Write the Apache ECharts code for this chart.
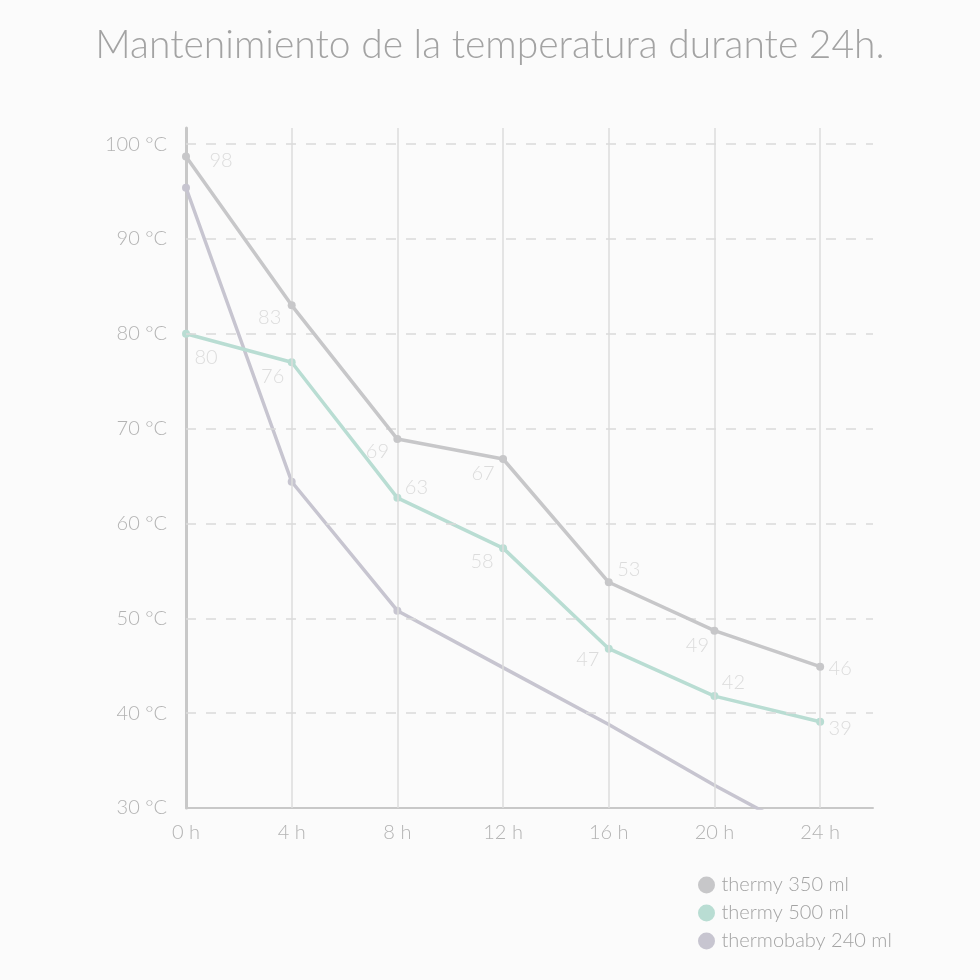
<!DOCTYPE html>
<html><head><meta charset="utf-8">
<script src="https://cdn.jsdelivr.net/npm/echarts@6/dist/echarts.min.js"></script>
<style>html,body{margin:0;padding:0;background:#fbfbfb}#c{width:980px;height:980px}</style>
</head><body><div id="c"></div>
<script>
const hours = [0, 4, 8, 12, 16, 20, 24];
const yTicks = [30, 40, 50, 60, 70, 80, 90, 100];
const names = ['thermy 350 ml', 'thermy 500 ml', 'thermobaby 240 ml'];
const thermy350 = [98.7, 83.0, 68.9, 66.8, 53.8, 48.7, 44.9];
const thermy350Labels = ['98', '83', '69', '67', '53', '49', '46'];
const thermy500 = [80.0, 77.0, 62.7, 57.4, 46.8, 41.8, 39.1];
const thermy500Labels = ['80', '76', '63', '58', '47', '42', '39'];
const thermobaby = [95.4, 64.4, 50.8, 44.8, 38.8, 32.4, 26.4];
const thermobabyMarked = 3;

// label offsets (style only)
const off350 = [[35,4],[-22,12],[-20,12],[-20,15],[20,-13],[-17,15],[20,2]];
const off500 = [[20,24],[-19,14],[19,-10],[-21,13],[-21,11],[19,-14],[20,7]];

const colors = ['#c7c7c9', '#b9ddd3', '#c7c5d0'];
const font = 'Lato, "Open Sans", sans-serif';

function labeled(vals, labels, offs) {
  return vals.map((v, i) => ({
    value: [hours[i], v],
    label: { show: true, formatter: labels[i], offset: offs[i], position: 'inside' }
  }));
}

const chart = echarts.init(document.getElementById('c'));
chart.setOption({
  backgroundColor: '#fbfbfb',
  animation: false,
  color: colors,
  title: {
    text: 'Mantenimiento de la temperatura durante 24h.',
    left: 'center', top: 21,
    textStyle: { color: '#a3a3a3', fontSize: 39, fontWeight: 300, fontFamily: font }
  },
  legend: {
    orient: 'vertical', left: 693, top: 870,
    icon: 'circle', itemWidth: 20, itemHeight: 17, itemGap: 8,
    data: names,
    textStyle: { color: '#a3a3a3', fontSize: 20, fontWeight: 300, fontFamily: font }
  },
  grid: { left: 186, right: 107, top: 128, bottom: 172, containLabel: false },
  xAxis: {
    type: 'value', min: 0, max: 26, interval: 4,
    axisLine: { show: true, lineStyle: { color: '#c8c8c8', width: 2 } },
    axisTick: { show: false },
    splitLine: { show: false },
    axisLabel: {
      color: '#b3b3b3', fontSize: 20, fontWeight: 300, fontFamily: font, margin: 15,
      showMaxLabel: false,
      formatter: v => hours.indexOf(v) >= 0 ? v + ' h' : ''
    }
  },
  yAxis: {
    type: 'value', min: 30, max: 101.7, interval: 10,
    axisLine: { show: true, lineStyle: { color: '#c8c8c8', width: 3 } },
    axisTick: { show: false },
    splitLine: { show: false },
    axisLabel: {
      color: '#b3b3b3', fontSize: 20, fontWeight: 300, fontFamily: font, margin: 19,
      showMaxLabel: false,
      formatter: v => yTicks.indexOf(v) >= 0 ? v + ' °C' : ''
    }
  },
  series: [
    {
      name: 'grid', type: 'line', data: [], silent: true,
      markLine: {
        silent: true, symbol: 'none', label: { show: false }, animation: false,
        data: hours.slice(1).map(h => ({ xAxis: h, lineStyle: { color: '#dcdcdc', width: 1.5, type: 'solid' } }))
          .concat(yTicks.slice(1).map(t => ({ yAxis: t, lineStyle: { color: '#dadada', width: 1.5, type: [10, 10] } })))
      }
    },
    {
      name: names[0], type: 'line', z: 5,
      data: labeled(thermy350, thermy350Labels, off350),
      symbol: 'circle', symbolSize: 8,
      lineStyle: { width: 3.5, color: colors[0] },
      itemStyle: { color: colors[0] },
      label: { color: '#dcdcdc', fontSize: 20, fontWeight: 300, fontFamily: font }
    },
    {
      name: names[1], type: 'line', z: 4,
      data: labeled(thermy500, thermy500Labels, off500),
      symbol: 'circle', symbolSize: 8,
      lineStyle: { width: 3.5, color: colors[1] },
      itemStyle: { color: colors[1] },
      label: { color: '#dcdcdc', fontSize: 20, fontWeight: 300, fontFamily: font }
    },
    {
      name: names[2], type: 'line', z: 3, clip: true,
      data: thermobaby.map((v, i) => ({
        value: [hours[i], v],
        symbolSize: i < thermobabyMarked ? 8 : 0
      })),
      symbol: 'circle', showAllSymbol: true,
      lineStyle: { width: 3.5, color: colors[2] },
      itemStyle: { color: colors[2] }
    }
  ]
});
</script></body></html>
